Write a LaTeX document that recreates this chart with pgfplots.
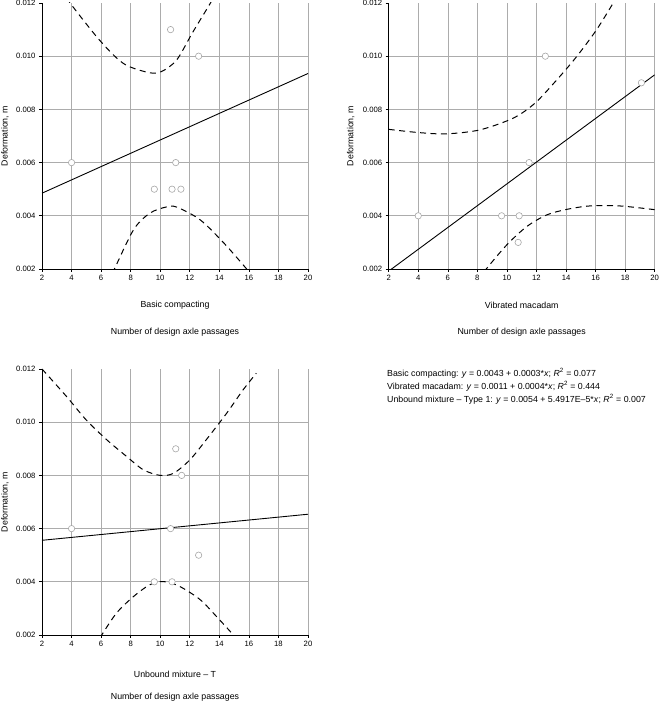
\documentclass[border=0pt]{standalone}
\usepackage{fontspec}
\setmainfont{Liberation Sans}
\usepackage{pgfplots}
\pgfplotsset{compat=1.18}
\pgfplotsset{
  myax/.style={
    scale only axis, width=266pt, height=266pt,
    xmin=2, xmax=20, ymin=0.002, ymax=0.012,
    axis lines*=left,
    xtick={2,4,...,20},
    ytick={0.002,0.004,0.006,0.008,0.010},
    extra y ticks={0.012},
    extra y tick style={grid=none, yticklabel style={/pgf/number format/.cd, fixed, fixed zerofill, precision=3, assume math mode=true}},
    grid=major, major grid style={gray!65, line width=0.6pt},
    tick align=outside, major tick length=3pt,
    tick style={black, line width=0.6pt},
    axis line style={black, line width=0.9pt},
    scaled y ticks=false,
    yticklabel style={/pgf/number format/.cd, fixed, fixed zerofill, precision=3, assume math mode=true},
    xticklabel style={/pgf/number format/assume math mode=true},
    ticklabel style={font=\fontsize{7.7}{8.5}\selectfont},
  },
  reg/.style={black, line width=0.9pt},
  band/.style={black, line width=1pt, dash pattern=on 6pt off 4.5pt, smooth},
  pts/.style={only marks, mark=*, mark size=3.2pt, mark options={fill=white, draw=gray!70, line width=0.6pt}},
}
\tikzset{lab/.style={font=\fontsize{8.8}{10}\selectfont}}
\begin{document}
\begin{tikzpicture}
\useasboundingbox (0,0) rectangle (659pt,701pt);
% ---------------- Plot 1 ----------------
\begin{axis}[myax, name=ax1, anchor=south west, at={(42pt,432pt)}]
\addplot[band] coordinates {(3.75,0.0122) (3.9,0.0120) (5.9,0.0106) (7.5,0.00973) (9.1,0.0094) (10,0.0094) (11.1,0.00985) (12.2,0.0109) (13.4,0.0120) (13.55,0.0122)};
\addplot[band] coordinates {(6.8,0.0019) (6.9,0.0020) (8.2,0.00348) (9.3,0.0041) (10.4,0.00433) (11.1,0.00433) (12.7,0.00385) (14.3,0.00298) (15.85,0.0020) (15.95,0.0019)};
\addplot[reg] coordinates {(2,0.00485) (20,0.00935)};
\addplot[pts] coordinates {(4,0.006) (10.7,0.011) (12.6,0.010) (11.05,0.006) (9.6,0.005) (10.8,0.005) (11.4,0.005)};
\end{axis}
\node[lab] at ([yshift=-36pt]ax1.south) {Basic compacting};
\node[lab] at ([yshift=-63pt]ax1.south) {Number of design axle passages};
\node[lab, rotate=90] at ([xshift=-37pt]ax1.west) {Deformation, m};
% ---------------- Plot 2 ----------------
\begin{axis}[myax, name=ax2, anchor=south west, at={(388.7pt,432pt)}]
\addplot[band] coordinates {(2,0.00725) (4,0.00713) (5.9,0.00708) (8.17,0.00723) (10.42,0.00767) (11.89,0.00823) (13.36,0.0091) (14.71,0.00998) (16.06,0.01099) (17.19,0.0120) (17.35,0.0122)};
\addplot[band] coordinates {(8.5,0.0019) (8.6,0.0020) (9.98,0.0029) (11.33,0.00359) (12.68,0.00403) (14.04,0.00424) (15.6,0.00437) (17.64,0.00437) (20,0.00423)};
\addplot[reg] coordinates {(2,0.00192) (20,0.0093)};
\addplot[pts] coordinates {(4,0.004) (9.64,0.004) (10.83,0.004) (10.76,0.003) (11.5,0.006) (12.6,0.010) (19.1,0.009)};
\end{axis}
\node[lab] at ([yshift=-36pt]ax2.south) {Vibrated macadam};
\node[lab] at ([yshift=-63pt]ax2.south) {Number of design axle passages};
\node[lab, rotate=90] at ([xshift=-38pt]ax2.west) {Deformation, m};
% ---------------- Plot 3 ----------------
\begin{axis}[myax, name=ax3, anchor=south west, at={(42pt,66pt)}]
\addplot[band] coordinates {(2,0.0120) (3.67,0.01096) (5.0,0.01008) (6.4,0.00933) (7.73,0.00871) (8.86,0.00821) (10,0.0080) (10.9,0.00808) (12,0.00858) (13.1,0.00933) (14.5,0.01034) (15.6,0.01121) (16.5,0.01184)};
\addplot[band] coordinates {(5.95,0.0019) (6.04,0.0020) (7.05,0.00283) (8.2,0.00345) (9.3,0.00389) (10.2,0.00401) (11.3,0.00383) (12.7,0.00333) (13.8,0.0027) (14.95,0.0020) (15.05,0.0019)};
\addplot[reg] coordinates {(2,0.00556) (20,0.00654)};
\addplot[pts] coordinates {(4,0.006) (10.7,0.006) (11.05,0.009) (11.45,0.008) (12.6,0.005) (9.6,0.004) (10.8,0.004)};
\end{axis}
\node[lab] at ([yshift=-39pt]ax3.south) {Unbound mixture – T};
\node[lab] at ([yshift=-62pt]ax3.south) {Number of design axle passages};
\node[lab, rotate=90] at ([xshift=-37pt]ax3.west) {Deformation, m};
% ---------------- Equations ----------------
\node[anchor=north west, align=left, inner sep=0pt, font=\fontsize{8.8}{13}\selectfont] at (387pt,333pt) {%
Basic compacting: \textit{y} = 0.0043 + 0.0003*\textit{x}; \textit{R}\textsuperscript{2} = 0.077\\
Vibrated macadam: \textit{y} = 0.0011 + 0.0004*\textit{x}; \textit{R}\textsuperscript{2} = 0.444\\
Unbound mixture – Type 1: \textit{y} = 0.0054 + 5.4917E–5*\textit{x}; \textit{R}\textsuperscript{2} = 0.007};
\end{tikzpicture}
\end{document}
